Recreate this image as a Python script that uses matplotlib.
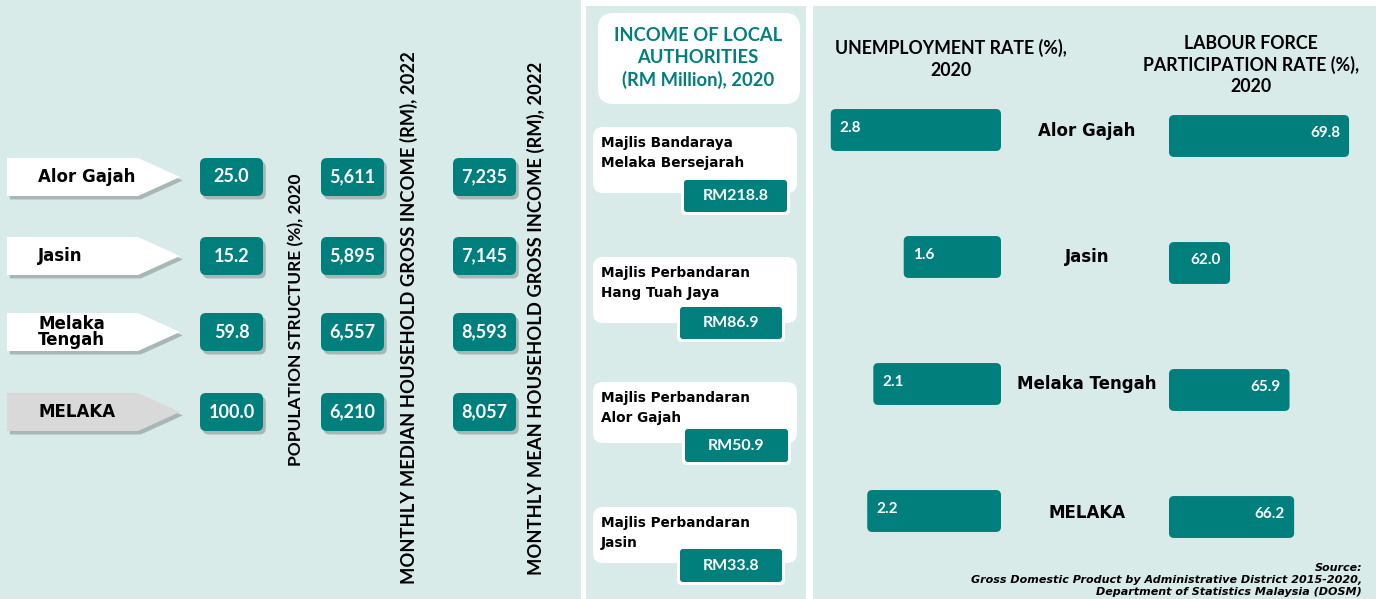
import matplotlib
matplotlib.use("Agg")
import matplotlib.pyplot as plt
import matplotlib.patheffects as pe
from matplotlib.patches import FancyBboxPatch, Polygon, Rectangle

plt.rcParams["font.family"] = ["Lato", "DejaVu Sans"]
WIDE = ["DejaVu Sans"]  # wider face for the mixed-case labels

BG = "#d8ebe9"
TEAL = "#007f7d"

# ---- data -------------------------------------------------------------
districts = ["Alor Gajah", "Jasin", "Melaka\nTengah", "MELAKA"]
population_pct = [25.0, 15.2, 59.8, 100.0]
median_income = [5611, 5895, 6557, 6210]
mean_income = [7235, 7145, 8593, 8057]

authorities = [
    "Majlis Bandaraya\nMelaka Bersejarah",
    "Majlis Perbandaran\nHang Tuah Jaya",
    "Majlis Perbandaran\nAlor Gajah",
    "Majlis Perbandaran\nJasin",
]
authority_income = [218.8, 86.9, 50.9, 33.8]

regions = ["Alor Gajah", "Jasin", "Melaka Tengah", "MELAKA"]
unemployment = [2.8, 1.6, 2.1, 2.2]
labour_force = [69.8, 62.0, 65.9, 66.2]

# ---- layout (pixels) --------------------------------------------------
W, H = 1376, 599
row_y = [177, 256, 332, 412]
card_top = [127, 257, 382, 507]
card_h = [66, 66, 61, 56]
val_box = [(684, 180, 103, 32), (680, 307, 102, 32), (685, 429, 103, 33), (680, 549, 102, 33)]

fig = plt.figure(figsize=(W / 100, H / 100), dpi=100)
ax = fig.add_axes([0, 0, 1, 1])
ax.set_xlim(0, W)
ax.set_ylim(H, 0)
ax.axis("off")

for x0, y0, w in [(0, 0, 581), (586, 6, 220), (813, 6, 563)]:
    ax.add_patch(Rectangle((x0, y0), w, H - y0, fc=BG, ec="none"))

shadow = [pe.SimplePatchShadow(offset=(2, -2.5), shadow_rgbFace="black", alpha=0.22), pe.Normal()]

# ---- panel 1 ----------------------------------------------------------
for i, name in enumerate(districts):
    y = row_y[i]
    face = "#d9d9d9" if name == "MELAKA" else "white"
    ax.add_patch(Polygon([(7, y - 19), (138, y - 19), (180, y), (138, y + 19), (7, y + 19)],
                         closed=True, fc=face, ec="none", path_effects=shadow))
    ax.text(38, y, name, ha="left", va="center", fontsize=12, fontweight="bold",
            color="black", linespacing=0.85, family=WIDE)
    cols = [(200, f"{population_pct[i]:.1f}"), (321, f"{median_income[i]:,}"),
            (453, f"{mean_income[i]:,}")]
    for x0, label in cols:
        ax.add_patch(FancyBboxPatch((x0, y - 19), 63, 38, boxstyle="round,pad=0,rounding_size=6",
                                    fc=TEAL, ec="none", path_effects=shadow))
        ax.text(x0 + 31.5, y, label, ha="center", va="center", fontsize=13,
                fontweight="bold", color="white")

ax.text(296, 320, "POPULATION STRUCTURE (%), 2020", rotation=90, ha="center",
        va="center", fontsize=12.5, fontweight="bold")
ax.text(409, 318, "MONTHLY MEDIAN HOUSEHOLD GROSS INCOME (RM), 2022", rotation=90,
        ha="center", va="center", fontsize=13.2, fontweight="bold")
ax.text(536, 318, "MONTHLY MEAN HOUSEHOLD GROSS INCOME (RM), 2022", rotation=90,
        ha="center", va="center", fontsize=13.2, fontweight="bold")

# ---- panel 2 ----------------------------------------------------------
ax.add_patch(FancyBboxPatch((598, 13), 202, 91, boxstyle="round,pad=0,rounding_size=15",
                            fc="white", ec="none"))
ax.text(698, 58, "INCOME OF LOCAL\nAUTHORITIES\n(RM Million), 2020", ha="center",
        va="center", fontsize=13.2, fontweight="bold", color=TEAL, linespacing=1.35)

for i, name in enumerate(authorities):
    ax.add_patch(FancyBboxPatch((593, card_top[i]), 204, card_h[i],
                                boxstyle="round,pad=0,rounding_size=10", fc="white", ec="none"))
    ax.text(601, card_top[i] + 26, name, ha="left", va="center", fontsize=9.8,
            fontweight="bold", color="black", linespacing=1.6, family=WIDE)
    bx, by, bw, bh = val_box[i]
    ax.add_patch(FancyBboxPatch((bx - 3, by - 3), bw + 6, bh + 6,
                                boxstyle="round,pad=0,rounding_size=5", fc="white", ec="none"))
    ax.add_patch(FancyBboxPatch((bx, by), bw, bh, boxstyle="round,pad=0,rounding_size=3",
                                fc=TEAL, ec="none"))
    ax.text(bx + bw / 2, by + bh / 2, f"RM{authority_income[i]:.1f}", ha="center",
            va="center", fontsize=11.5, fontweight="bold", color="white")

# ---- panel 3 ----------------------------------------------------------
ax.text(951, 59, "UNEMPLOYMENT RATE (%),\n2020", ha="center", va="center",
        fontsize=12.8, fontweight="bold", linespacing=1.35)
ax.text(1251, 65, "LABOUR FORCE\nPARTICIPATION RATE (%),\n2020", ha="center",
        va="center", fontsize=12.8, fontweight="bold", linespacing=1.3)

label_y = [131, 257, 384, 513]
for i, name in enumerate(regions):
    ax.text(1087, label_y[i], name, ha="center", va="center", fontsize=12,
            fontweight="bold", family=WIDE)


def bar_axes(x0, x1, top, bottom):
    a = fig.add_axes([x0 / W, 1 - bottom / H, (x1 - x0) / W, (bottom - top) / H])
    a.set_ylim(3.5, -0.5)
    a.axis("off")
    a.patch.set_alpha(0)
    return a


row_px = 127
# unemployment: bars grow leftward from x=1001, 60.8 px per %
ax_u = bar_axes(1001 - 60.8 * 3.2, 1001, 130 - row_px / 2, 130 + row_px * 3.5)
ax_u.set_xlim(3.2, 0)
px_x = 1 / 60.8
asp = (1 / row_px) / px_x
for i, v in enumerate(unemployment):
    ax_u.add_patch(FancyBboxPatch((0, i - 0.165), v, 0.33,
                                  boxstyle=f"round,pad=0,rounding_size={5 * px_x}",
                                  mutation_aspect=asp, fc=TEAL, ec="none"))
    ax_u.text(v - 9 * px_x, i - 0.015, f"{v:.1f}", ha="left", va="center", fontsize=11,
              fontweight="bold", color="white")

# labour force: bars grow rightward from x=1169 (58%), 15.26 px per %
lx0, lpx = 58.0, 15.26
ax_l = bar_axes(1169, 1169 + lpx * 13, 136 - row_px / 2, 136 + row_px * 3.5)
ax_l.set_xlim(lx0, lx0 + 13)
px_l = 1 / lpx
asp_l = (1 / row_px) / px_l
for i, v in enumerate(labour_force):
    ax_l.add_patch(FancyBboxPatch((lx0, i - 0.165), v - lx0, 0.33,
                                  boxstyle=f"round,pad=0,rounding_size={5 * px_l}",
                                  mutation_aspect=asp_l, fc=TEAL, ec="none"))
    ax_l.text(v - 9 * px_l, i - 0.025, f"{v:.1f}", ha="right", va="center", fontsize=11,
              fontweight="bold", color="white")

ax.text(1362, 597, "Source:\nGross Domestic Product by Administrative District 2015-2020,\n"
        "Department of Statistics Malaysia (DOSM)", ha="right", va="bottom",
        fontsize=8, fontweight="bold", style="italic", linespacing=1.25, family=WIDE)

fig.savefig("out.png", dpi=100)
plt.close(fig)
